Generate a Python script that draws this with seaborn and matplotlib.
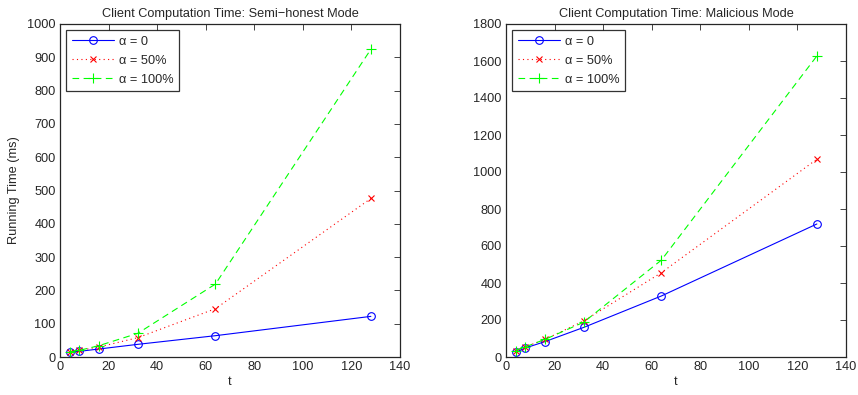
import matplotlib
matplotlib.use("Agg")
import matplotlib.pyplot as plt
import seaborn as sns

# Values
t_values = [4, 8, 16, 32, 64, 128]

semi_alpha0 = [15, 17, 24, 38, 64, 122]
semi_alpha50 = [15, 20, 30, 58, 145, 476]
semi_alpha100 = [15, 20, 34, 71, 219, 924]

mal_alpha0 = [25, 49, 83, 160, 330, 719]
mal_alpha50 = [35, 55, 95, 195, 456, 1069]
mal_alpha100 = [35, 55, 95, 188, 524, 1627]

series_labels = ["\u03b1 = 0", "\u03b1 = 50%", "\u03b1 = 100%"]
titles = ["Client Computation Time: Semi\u2212honest Mode",
          "Client Computation Time: Malicious Mode"]

FS = 9.2


def draw_panel(ax, values, title, ymax, ystep, ylabel=None):
    styles = [
        dict(color=(0, 0, 1), linestyle="-", marker="o", markersize=5.5,
             markerfacecolor="none", markeredgecolor=(0, 0, 1),
             markeredgewidth=0.8, linewidth=0.8),
        dict(color=(1, 0, 0), linestyle=(0, (1, 3)), marker="x", markersize=4,
             markeredgecolor=(1, 0, 0), markeredgewidth=0.8, linewidth=0.8),
        dict(color=(0, 1, 0), linestyle=(0, (6, 4)), marker="+", markersize=6.5,
             markeredgecolor=(0, 1, 0), markeredgewidth=0.8, linewidth=0.8),
    ]
    for vals, label, st in zip(values, series_labels, styles):
        sns.lineplot(x=t_values, y=vals, ax=ax, label=label, **st)

    ax.set_xlim(0, 140)
    ax.set_ylim(0, ymax)
    ax.set_xticks(range(0, 141, 20))
    ax.set_yticks(range(0, ymax + 1, ystep))
    ax.tick_params(direction="in", top=True, right=True, labelsize=FS,
                   length=4, width=0.6, pad=3)
    for sp in ax.spines.values():
        sp.set_linewidth(0.9)
    ax.set_title(title, fontsize=FS, pad=5)
    ax.set_xlabel("t", fontsize=FS, labelpad=2)
    if ylabel:
        ax.set_ylabel(ylabel, fontsize=FS, labelpad=5)
    else:
        ax.set_ylabel("")
    leg = ax.legend(loc="upper left", fontsize=FS, frameon=True, fancybox=False,
                    edgecolor="black", handlelength=3.3, borderaxespad=0.5,
                    labelspacing=0.55, handletextpad=0.4, borderpad=0.4)
    leg.get_frame().set_linewidth(0.9)


def main():
    sns.set_style("white")
    plt.rcParams["font.family"] = ["Liberation Sans", "DejaVu Sans"]

    fig = plt.figure(figsize=(8.58, 3.95), dpi=100)
    ax1 = fig.add_axes([60 / 858, 38 / 395, 340 / 858, 333 / 395])
    ax2 = fig.add_axes([506 / 858, 38 / 395, 340 / 858, 333 / 395])

    draw_panel(ax1, [semi_alpha0, semi_alpha50, semi_alpha100], titles[0],
               1000, 100, ylabel="Running Time (ms)")
    draw_panel(ax2, [mal_alpha0, mal_alpha50, mal_alpha100], titles[1],
               1800, 200)

    fig.savefig("out.png", dpi=100)


if __name__ == "__main__":
    main()
